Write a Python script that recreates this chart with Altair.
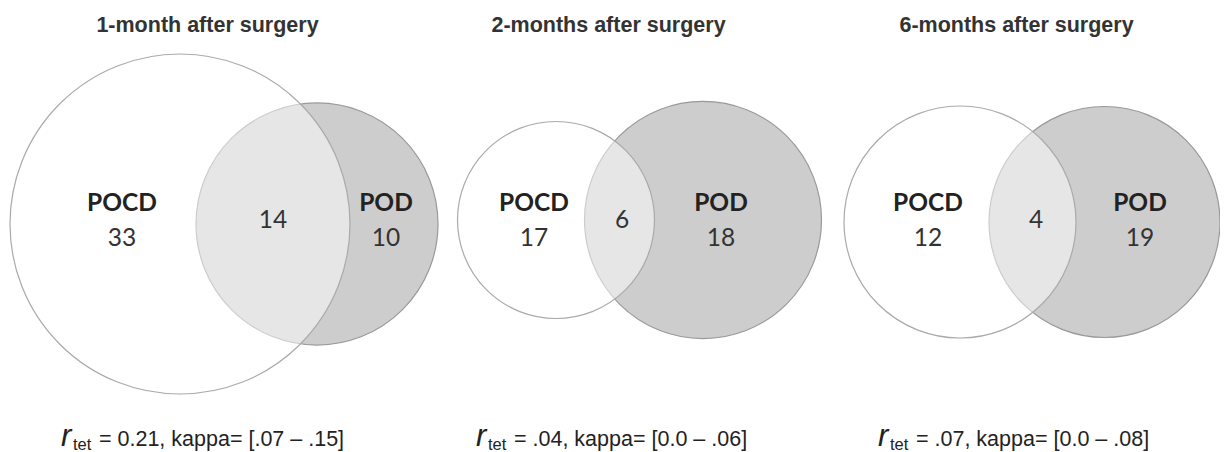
import altair as alt
import pandas as pd

# ---- data ----
titles = ["1-month after surgery", "2-months after surgery", "6-months after surgery"]
pocd_only = [33, 17, 12]
both = [14, 6, 4]
pod_only = [10, 18, 19]
r_tet = ["0.21", ".04", ".07"]
kappa = ["[.07 – .15]", "[0.0 – .06]", "[0.0 – .08]"]

# ---- diagram layout (diagram units) ----
pocd_cx = [180, 556, 960]
pocd_cy = [224, 220, 222]
pocd_r = [170, 98.5, 116]
pod_cx = [317, 703, 1104.5]
pod_cy = [224, 220, 222]
pod_r = [121, 118.5, 115.5]
title_x = [207.5, 608.5, 1016.5]
pocd_lab_x = [122, 534, 928]
both_x = [273, 622, 1036]
pod_lab_x = [386, 721, 1140]
stat_x = [62, 477, 879]

X = alt.Scale(domain=[8, 1220], nice=False, zero=False)
Y = alt.Scale(domain=[8, 452], nice=False, zero=False, reverse=True)


def enc(**kw):
    return dict(x=alt.X("x:Q", scale=X, axis=None),
                y=alt.Y("y:Q", scale=Y, axis=None), **kw)


pod_df = pd.DataFrame({"x": pod_cx, "y": pod_cy, "r": pod_r})
pocd_df = pd.DataFrame({"x": pocd_cx, "y": pocd_cy, "r": pocd_r})

pod_layer = alt.Chart(pod_df).transform_calculate(s="4*datum.r*datum.r").mark_circle(
    fill="#cdcdcd", stroke="#999999", strokeWidth=1.2, opacity=1
).encode(**enc(size=alt.Size("s:Q", scale=None, legend=None)))

pocd_layer = alt.Chart(pocd_df).transform_calculate(s="4*datum.r*datum.r").mark_circle(
    fill="white", fillOpacity=0.5, stroke="#aaaaaa", strokeOpacity=1, strokeWidth=1.2, opacity=1
).encode(**enc(size=alt.Size("s:Q", scale=None, legend=None)))

title_df = pd.DataFrame({"x": title_x, "y": [32] * 3, "text": titles})
title_layer = alt.Chart(title_df).mark_text(
    font="Liberation Sans", fontWeight="bold", fontSize=21.5, color="#333333",
    align="center", baseline="alphabetic"
).encode(**enc(text="text:N"))

name_df = pd.DataFrame({"x": pocd_lab_x + pod_lab_x, "y": [211] * 6,
                        "text": ["POCD"] * 3 + ["POD"] * 3})
name_layer = alt.Chart(name_df).mark_text(
    font="Lato", fontWeight="bold", fontSize=24.5, color="#222222",
    align="center", baseline="alphabetic"
).encode(**enc(text="text:N"))

num_df = pd.DataFrame({
    "x": pocd_lab_x + pod_lab_x + both_x,
    "y": [246] * 6 + [228] * 3,
    "text": [str(v) for v in pocd_only + pod_only + both],
})
num_layer = alt.Chart(num_df).mark_text(
    font="Lato", fontSize=24.5, color="#333333", align="center", baseline="alphabetic"
).encode(**enc(text="text:N"))

r_df = pd.DataFrame({"x": stat_x, "y": [446] * 3, "text": ["r"] * 3})
r_layer = alt.Chart(r_df).mark_text(
    font="Liberation Sans", fontStyle="italic", fontSize=31, color="#222222",
    align="left", baseline="alphabetic", dx=-1
).encode(**enc(text="text:N"))

sub_df = pd.DataFrame({"x": stat_x, "y": [450] * 3, "text": ["tet"] * 3})
sub_layer = alt.Chart(sub_df).mark_text(
    font="Liberation Sans", fontSize=16.5, color="#222222",
    align="left", baseline="alphabetic", dx=11
).encode(**enc(text="text:N"))

stat_df = pd.DataFrame({
    "x": stat_x, "y": [446] * 3,
    "text": [f"= {a}, kappa= {b}" for a, b in zip(r_tet, kappa)],
})
stat_layer = alt.Chart(stat_df).mark_text(
    font="Liberation Sans", fontSize=21.5, color="#222222",
    align="left", baseline="alphabetic", dx=37
).encode(**enc(text="text:N"))

chart = alt.layer(
    pod_layer, pocd_layer, title_layer, name_layer, num_layer,
    r_layer, sub_layer, stat_layer
).properties(
    width=1212, height=444, padding=0, autosize=alt.AutoSizeParams(type="none")
).configure(background="white").configure_view(stroke=None)

chart.save("out.html", embed_options={"renderer": "svg", "actions": False})
